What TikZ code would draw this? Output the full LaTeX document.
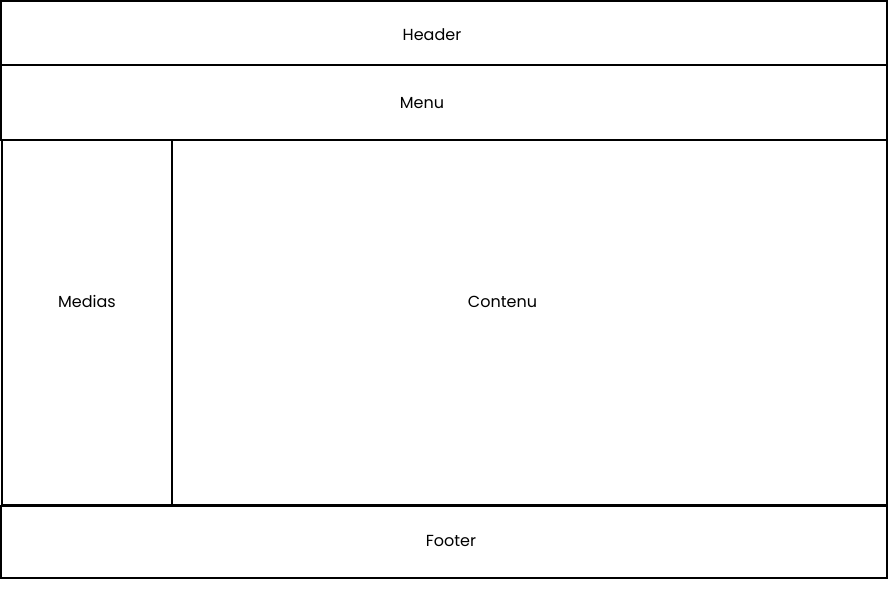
\documentclass[tikz,border=0pt]{standalone}
\usepackage{fontspec}
\setmainfont{Poppins}
\usetikzlibrary{positioning}
\tikzset{
    zone/.style={rectangle, draw=black, line width=1.8pt, inner sep=0pt},
    zonelbl/.style={font=\fontsize{16}{18}\selectfont, text=black, inner sep=0pt},
}

\begin{document}
\begin{tikzpicture}[x=1pt, y=-1pt]
\useasboundingbox (0,0) rectangle (889,609);

% Page zones
\node[zone, minimum width=886pt, minimum height=64pt] (header) at (444,33) {};
\node[zone, minimum width=886pt, minimum height=75pt] (menu) at (444,102.5) {};
\node[zone, minimum width=170pt, minimum height=365pt] (medias) at (87,322.5) {};
\node[zone, minimum width=715pt, minimum height=365pt] (contenu) at (529.5,322.5) {};
\node[zone, minimum width=886pt, minimum height=72pt] (footer) at (444,542) {};

% Labels
\node[zonelbl] (header-lbl) at ([xshift=-12pt, yshift=-2pt]header.center) {Header};
\node[zonelbl] (menu-lbl) at ([xshift=-22pt, yshift=-1pt]menu.center) {Menu};
\node[zonelbl] (medias-lbl) at ([yshift=21pt]medias.center) {Medias};
\node[zonelbl] (contenu-lbl) at ([xshift=-27pt, yshift=21pt]contenu.center) {Contenu};
\node[zonelbl] (footer-lbl) at ([xshift=7pt, yshift=1pt]footer.center) {Footer};

\end{tikzpicture}
\end{document}
